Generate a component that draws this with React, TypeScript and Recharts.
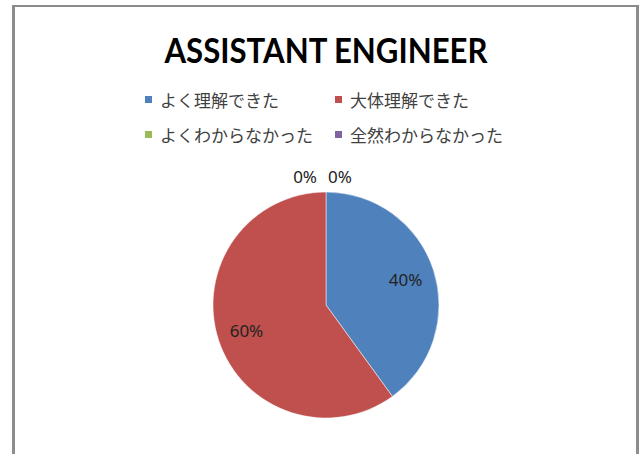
import React from "react";
import { PieChart, Pie, Cell, Legend } from "recharts";

const title = "ASSISTANT ENGINEER";
const categories = ["よく理解できた", "大体理解できた", "よくわからなかった", "全然わからなかった"];
const values = [40, 60, 0, 0];
const colors = ["#4F81BD", "#C0504D", "#9BBB59", "#8064A2"];

const data = categories.map((name, i) => ({ name, value: values[i] }));

const RAD = Math.PI / 180;

const renderLabel = (props: any) => {
  const { cx, cy, midAngle, outerRadius, percent, index } = props;
  const pct = `${Math.round((percent || 0) * 100)}%`;
  if (!percent) {
    const isLeft = index === 2;
    return (
      <text
        x={cx + (isLeft ? -9 : 2)}
        y={cy - outerRadius - 16}
        textAnchor={isLeft ? "end" : "start"}
        dominantBaseline="central"
        fontFamily="'Noto Sans', sans-serif"
        fontSize={17}
        fill="#222"
      >
        {pct}
      </text>
    );
  }
  const r = outerRadius * 0.74;
  const x = cx + r * Math.cos(-midAngle * RAD);
  const y = cy + r * Math.sin(-midAngle * RAD);
  return (
    <text
      x={x}
      y={y}
      textAnchor="middle"
      dominantBaseline="central"
      fontFamily="'Noto Sans', sans-serif"
      fontSize={17}
      fill="#222"
    >
      {pct}
    </text>
  );
};

const renderLegend = (props: any) => {
  const payload = (props && props.payload) || [];
  const items = categories.map((name, i) => {
    const p = payload.find((q: any) => q.value === name);
    return { name, color: (p && p.color) || colors[i] };
  });
  return (
    <div
      style={{
        display: "grid",
        gridTemplateColumns: "190px 200px",
        rowGap: 12,
        marginLeft: 145,
      }}
    >
      {items.map((it) => (
        <div key={it.name} style={{ display: "flex", alignItems: "center", height: 23 }}>
          <span style={{ width: 7, height: 7, background: it.color, display: "inline-block", marginRight: 8 }} />
          <span
            style={{
              fontFamily: "'Noto Sans CJK JP', sans-serif",
              fontSize: 17,
              color: "#404040",
              whiteSpace: "nowrap",
            }}
          >
            {it.name}
          </span>
        </div>
      ))}
    </div>
  );
};

export default function App() {
  return (
    <div style={{ position: "relative", width: 641, height: 454, background: "#fff", overflow: "hidden" }}>
      <style>{`body{margin:0;}`}</style>
      <div
        style={{
          position: "absolute",
          left: 12,
          top: 5,
          width: 621,
          height: 470,
          borderLeft: "3px solid #8c8c8c",
          borderRight: "3px solid #8c8c8c",
          borderTop: "2px solid #8c8c8c",
        }}
      />
      <svg style={{ position: "absolute", left: 0, top: 0 }} width={641} height={80}>
        <text
          x={326}
          y={63}
          textAnchor="middle"
          textLength={323}
          lengthAdjust="spacingAndGlyphs"
          fontFamily="Lato, 'Liberation Sans', sans-serif"
          fontWeight="bold"
          fontSize={35}
          fill="#000"
        >
          {title}
        </text>
      </svg>
      <div style={{ position: "absolute", left: 0, top: 0 }}>
        <PieChart width={641} height={454} margin={{ top: 0, right: 0, bottom: 0, left: 0 }}>
          <Legend
            layout="horizontal"
            verticalAlign="middle"
            align="center"
            content={renderLegend}
            wrapperStyle={{ top: 88, left: 0, width: 641 }}
          />
          <Pie
            data={data}
            dataKey="value"
            nameKey="name"
            cx={326}
            cy={305}
            outerRadius={113}
            startAngle={90}
            endAngle={-270}
            stroke="#fff"
            strokeWidth={0.5}
            label={renderLabel}
            labelLine={false}
            isAnimationActive={false}
          >
            {data.map((d, i) => (
              <Cell key={d.name} fill={colors[i]} />
            ))}
          </Pie>
        </PieChart>
      </div>
    </div>
  );
}
